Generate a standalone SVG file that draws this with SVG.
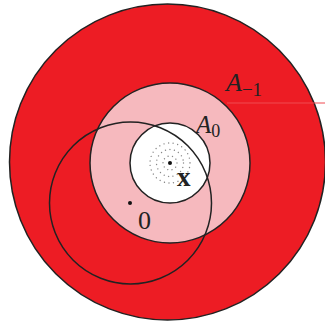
<svg xmlns="http://www.w3.org/2000/svg" width="325" height="327" viewBox="0 0 325 327">
<style>
.ol{fill:none;stroke:#222;stroke-width:1.5}
.lbl{font-family:"Liberation Serif","DejaVu Serif",serif;fill:#222}
.dots{fill:none;stroke:#888;stroke-width:1.4;stroke-linecap:round}
</style>
<rect width="325" height="327" fill="#fff"/>
<g id="A-1">
<circle cx="167.5" cy="162" r="158" fill="#ED1C24" stroke="#222" stroke-width="1.5"/>
<line x1="227" y1="103" x2="325" y2="103" stroke="#F04A50" stroke-width="1"/>
<text class="lbl" x="226" y="91" font-size="26" font-style="italic">A<tspan font-style="normal" font-size="19" dy="5">−1</tspan></text>
</g>
<g id="A0">
<circle cx="170" cy="163" r="80" fill="#F6B9BE" stroke="#222" stroke-width="1.5"/>
<text class="lbl" x="196" y="133" font-size="25" font-style="italic">A<tspan font-style="normal" font-size="18" dy="4">0</tspan></text>
</g>
<g id="inner">
<circle cx="170" cy="163" r="40" fill="#fff" stroke="#222" stroke-width="1.5"/>
<circle class="dots" cx="170" cy="163" r="7" stroke-dasharray="0.01 4.4"/>
<circle class="dots" cx="170" cy="163" r="13.5" stroke-dasharray="0.01 4.5"/>
<circle class="dots" cx="170" cy="163" r="20" stroke-dasharray="0.01 4.6"/>
<circle cx="170" cy="163" r="2" fill="#111"/>
<text class="lbl" x="177" y="186" font-size="27" font-weight="bold">x</text>
</g>
<g id="ball0">
<circle class="ol" cx="130.5" cy="203" r="81"/>
<circle cx="130" cy="203" r="2" fill="#111"/>
<text class="lbl" x="138" y="229" font-size="26">0</text>
</g>
<g id="connectors"></g>
</svg>
